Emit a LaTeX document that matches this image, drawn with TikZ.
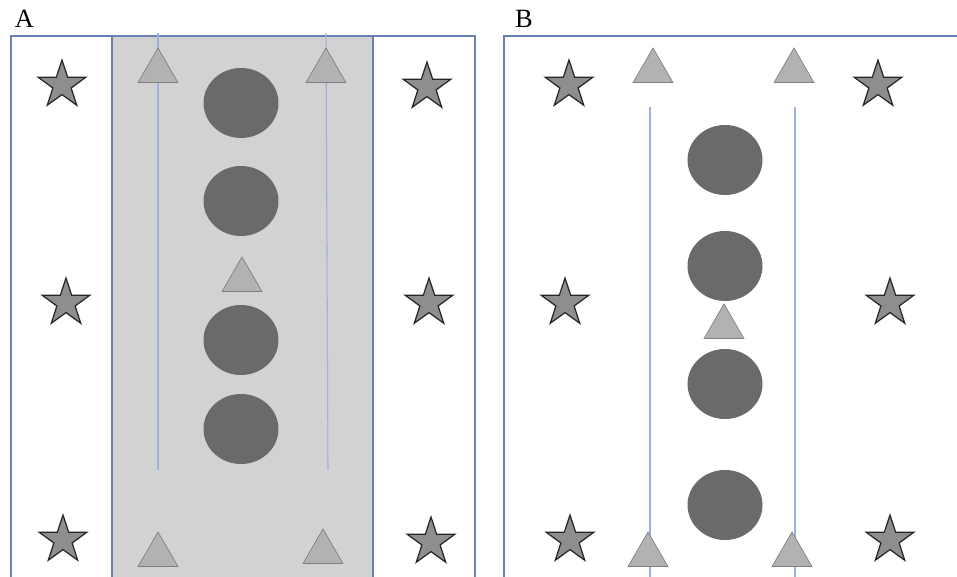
\documentclass[tikz,border=0pt]{standalone}
\usepackage{fontspec}
\setmainfont{Liberation Serif}
\usepackage{xcolor}
\usetikzlibrary{shapes.geometric}

\definecolor{framecol}{HTML}{6A80B5}
\definecolor{lanecol}{HTML}{9DB1DC}
\definecolor{bandcol}{HTML}{D2D2D2}
\definecolor{starcol}{HTML}{8E8E8E}
\definecolor{conecol}{HTML}{B2B2B2}
\definecolor{ballcol}{HTML}{6A6A6A}

\tikzset{
  player/.style={star, star points=5, star point ratio=2.6, minimum size=1cm,
    inner sep=0pt, draw=black!85, fill=starcol, line width=0.7pt},
  cone/.style={regular polygon, regular polygon sides=3, minimum size=0.92cm,
    inner sep=0pt, draw=gray, fill=conecol},
  ball/.style={ellipse, minimum width=1.5cm, minimum height=1.4cm,
    inner sep=0pt, fill=ballcol},
  lane/.style={lanecol, line width=0.6pt},
  panel/.style={font=\fontsize{15}{18}\selectfont, inner sep=0pt}
}

\begin{document}
\begin{tikzpicture}[x=0.02cm, y=-0.02cm]
    \useasboundingbox (0,0) rectangle (957,577);

    % Panel A: field with grey middle band
    \fill[bandcol] (112,36) rectangle (373,577);
    \draw[framecol, line width=0.7pt] (11,577) |- (475,36) -- (475,577);
    \draw[framecol, line width=0.9pt] (112,36) -- (112,577);
    \draw[framecol, line width=0.9pt] (373,36) -- (373,577);
    \node[panel, anchor=base] (labelA) at (24.5,28) {A};

    % running lanes
    \draw[lane] (158,33) -- (158,470);
    \draw[lane] (326,33) -- (328,470);

    % cones
    \node[cone] (coneA1) at (158,71) {};
    \node[cone] (coneA2) at (326,71) {};
    \node[cone] (coneA3) at (242,280) {};
    \node[cone] (coneA4) at (158,555) {};
    \node[cone] (coneA5) at (323,552) {};

    % balls
    \node[ball] (ballA1) at (241,103) {};
    \node[ball] (ballA2) at (241,201) {};
    \node[ball] (ballA3) at (241,340) {};
    \node[ball] (ballA4) at (241,429) {};

    % players
    \node[player] (starA1) at (62,85) {};
    \node[player] (starA2) at (427,87) {};
    \node[player] (starA3) at (66,303) {};
    \node[player] (starA4) at (429,303) {};
    \node[player] (starA5) at (63,540) {};
    \node[player] (starA6) at (431,542) {};

    % Panel B: open field
    \draw[framecol, line width=0.7pt] (504,577) |- (957,36);
    \node[panel, anchor=base] (labelB) at (524,28) {B};

    % running lanes
    \draw[lane] (650,107) -- (650,577);
    \draw[lane] (795,107) -- (795,577);

    % cones
    \node[cone] (coneB1) at (653,71) {};
    \node[cone] (coneB2) at (794,71) {};
    \node[cone] (coneB3) at (724,327) {};
    \node[cone] (coneB4) at (648,555) {};
    \node[cone] (coneB5) at (792,555) {};

    % balls
    \node[ball] (ballB1) at (725,160) {};
    \node[ball] (ballB2) at (725,266) {};
    \node[ball] (ballB3) at (725,384) {};
    \node[ball] (ballB4) at (725,505) {};

    % players
    \node[player] (starB1) at (569,85) {};
    \node[player] (starB2) at (878,85) {};
    \node[player] (starB3) at (565,303) {};
    \node[player] (starB4) at (890,303) {};
    \node[player] (starB5) at (570,540) {};
    \node[player] (starB6) at (890,540) {};
\end{tikzpicture}
\end{document}
